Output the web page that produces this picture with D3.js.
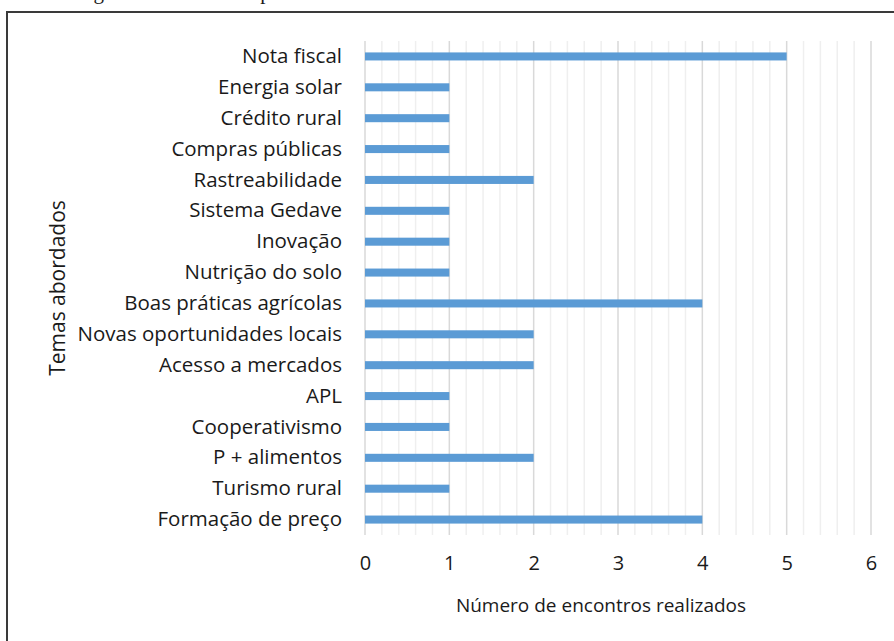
<!DOCTYPE html>
<html>
<head>
<meta charset="utf-8">
<script src="https://cdn.jsdelivr.net/npm/d3@7"></script>
<style>
  html, body { margin: 0; padding: 0; background: #fff; overflow: hidden; }
  text { font-family: "Open Sans", sans-serif; fill: #1a1a1a; }
</style>
</head>
<body>
<div id="chart"></div>
<script>
// chart data
var temas = [
    'Nota fiscal', 'Energia solar', 'Crédito rural', 'Compras públicas',
    'Rastreabilidade', 'Sistema Gedave', 'Inovação', 'Nutrição do solo',
    'Boas práticas agrícolas', 'Novas oportunidades locais', 'Acesso a mercados',
    'APL', 'Cooperativismo', 'P + alimentos', 'Turismo rural', 'Formação de preço'
];
var encontros = [5, 1, 1, 1, 2, 1, 1, 1, 4, 2, 2, 1, 1, 2, 1, 4];
var x_ticks = [0, 1, 2, 3, 4, 5, 6];
var x_title = 'Número de encontros realizados';
var y_title = 'Temas abordados';
var caption = 'Figura 4 – Temas das palestras realizadas';

var width = 894, height = 641;
var margin = {top: 41, right: 23, bottom: 106, left: 365};

var svg = d3.select('#chart')
    .append('svg')
    .attr('width', width)
    .attr('height', height);

// caption above the frame, cut off by the page top
svg.append('text')
    .attr('x', 76)
    .attr('y', -1.5)
    .style('font-family', '"Liberation Serif", serif')
    .attr('font-size', 21)
    .text(caption);

// frame (only left and top edges are visible)
svg.append('path')
    .attr('d', 'M7,' + height + 'V12H' + width)
    .attr('fill', 'none')
    .attr('stroke', '#3a3a3a')
    .attr('stroke-width', 2);

var x = d3.scaleLinear()
    .domain([0, 6])
    .range([margin.left, width - margin.right]);

var y = d3.scaleBand()
    .domain(temas)
    .range([margin.top, height - margin.bottom])
    .paddingInner(0.74)
    .paddingOuter(0.37);

// minor gridlines every 0.2
var minor = d3.range(0, 30).map(d => d / 5).filter(d => d % 1 !== 0);
svg.append('g')
    .selectAll('line')
    .data(minor)
    .enter()
    .append('line')
    .attr('x1', d => x(d)).attr('x2', d => x(d))
    .attr('y1', margin.top).attr('y2', height - margin.bottom)
    .attr('stroke', '#efefef')
    .attr('stroke-width', 1.5);

// major gridlines
svg.append('g')
    .selectAll('line')
    .data(x_ticks)
    .enter()
    .append('line')
    .attr('x1', d => x(d)).attr('x2', d => x(d))
    .attr('y1', margin.top).attr('y2', height - margin.bottom)
    .attr('stroke', '#d9d9d9')
    .attr('stroke-width', 1.5);

// bars
svg.append('g')
    .selectAll('rect')
    .data(temas)
    .enter()
    .append('rect')
    .attr('x', x(0))
    .attr('y', d => y(d))
    .attr('width', (d, i) => x(encontros[i]) - x(0))
    .attr('height', y.bandwidth())
    .attr('fill', '#5b9bd5');

// x axis
var xAxis = svg.append('g')
    .attr('transform', 'translate(0,' + (height - margin.bottom + 21) + ')')
    .call(d3.axisBottom(x).tickValues(x_ticks).tickFormat(d3.format('d'))
        .tickSize(0).tickPadding(0));
xAxis.select('.domain').remove();
xAxis.selectAll('text')
    .attr('font-size', 20)
    .style('font-family', '"Open Sans", sans-serif')
    .attr('fill', '#1a1a1a');

// y axis (category labels)
var yAxis = svg.append('g')
    .attr('transform', 'translate(' + (margin.left - 23) + ',0)')
    .call(d3.axisLeft(y).tickSize(0).tickPadding(0));
yAxis.select('.domain').remove();
yAxis.selectAll('text')
    .attr('font-size', 20.5)
    .style('font-family', '"Open Sans", sans-serif')
    .attr('fill', '#1a1a1a');

// axis titles
svg.append('text')
    .attr('x', 601)
    .attr('y', 612)
    .attr('text-anchor', 'middle')
    .attr('font-size', 19)
    .text(x_title);

svg.append('text')
    .attr('transform', 'translate(65,288) rotate(-90)')
    .attr('text-anchor', 'middle')
    .attr('font-size', 21)
    .text(y_title);
</script>
</body>
</html>
